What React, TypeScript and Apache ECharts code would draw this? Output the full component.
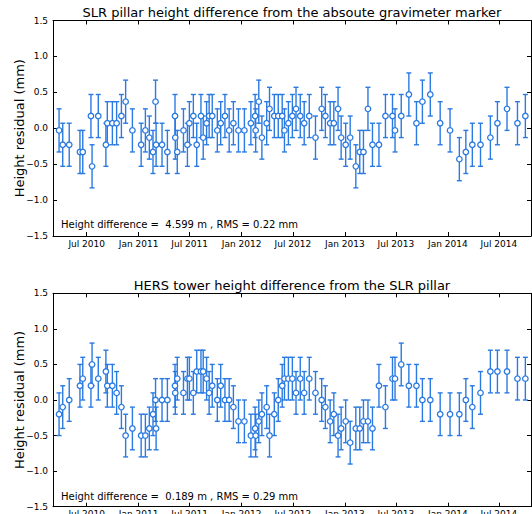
import React, { useEffect, useRef } from 'react';
import * as echarts from 'echarts';

// Observation epochs (shared by both panels)
const DATES: string[] = [
  '2010-03-25', '2010-04-07', '2010-04-30', '2010-06-07', '2010-06-17', '2010-07-16', '2010-07-20', '2010-08-11', '2010-09-07', '2010-09-12',
  '2010-09-30', '2010-10-15', '2010-11-01', '2010-11-16', '2010-12-10', '2011-01-10', '2011-01-25', '2011-02-08', '2011-02-21', '2011-03-02',
  '2011-03-04', '2011-03-25', '2011-04-13', '2011-05-10', '2011-05-11', '2011-05-18', '2011-06-09', '2011-06-23', '2011-06-30', '2011-07-14',
  '2011-07-26', '2011-08-10', '2011-08-18', '2011-08-30', '2011-09-08', '2011-09-19', '2011-10-07', '2011-10-19', '2011-11-03', '2011-11-18',
  '2011-12-03', '2011-12-21', '2012-01-11', '2012-02-03', '2012-02-18', '2012-02-20', '2012-03-02', '2012-03-13', '2012-03-30', '2012-04-09',
  '2012-04-26', '2012-05-10', '2012-05-24', '2012-06-01', '2012-06-15', '2012-06-29', '2012-07-12', '2012-07-27', '2012-08-10', '2012-08-28',
  '2012-09-19', '2012-10-11', '2012-10-24', '2012-11-10', '2012-11-23', '2012-12-08', '2012-12-19', '2013-01-04', '2013-01-20', '2013-02-09',
  '2013-02-23', '2013-03-08', '2013-03-24', '2013-04-09', '2013-05-02', '2013-05-25', '2013-06-19', '2013-06-28', '2013-07-20', '2013-08-16',
  '2013-09-12', '2013-10-03', '2013-10-31', '2013-12-05', '2014-01-09', '2014-02-11', '2014-03-06', '2014-03-29', '2014-04-27', '2014-06-01',
  '2014-06-26', '2014-07-30', '2014-09-05', '2014-10-03',
];

// Top panel: SLR pillar residuals (mm)
const SLR_RESIDUALS: number[] = [
  -0.03, -0.23, -0.23, -0.33, -0.33, 0.17, -0.53, 0.17, -0.23, 0.07,
  0.07, 0.07, 0.17, 0.37, -0.03, -0.23, -0.03, -0.13, -0.33, 0.37,
  -0.23, -0.23, -0.33, 0.17, -0.13, -0.33, -0.03, -0.23, 0.07, 0.17,
  -0.23, 0.17, -0.13, 0.07, 0.17, 0.17, -0.03, 0.07, 0.17, -0.03,
  0.07, -0.03, -0.03, 0.07, 0.17, -0.03, 0.37, -0.13, 0.07, 0.27,
  0.17, 0.17, 0.17, -0.03, 0.07, 0.17, 0.27, 0.17, 0.07, 0.17,
  -0.13, 0.27, 0.17, 0.07, 0.07, 0.27, -0.13, -0.23, -0.13, -0.53,
  -0.33, -0.33, 0.27, -0.23, -0.23, 0.17, 0.17, -0.03, 0.17, 0.47,
  0.07, 0.37, 0.47, 0.07, -0.03, -0.43, -0.33, -0.23, -0.23, -0.13,
  0.07, 0.27, 0.07, 0.17,
];

// Bottom panel: HERS tower residuals (mm)
const HERS_RESIDUALS: number[] = [
  -0.2, -0.1, 0.0, 0.2, 0.3, 0.2, 0.5, 0.3, 0.4, 0.2,
  0.2, 0.1, -0.1, -0.5, -0.4, -0.5, -0.5, -0.4, -0.2, 0.0,
  -0.4, 0.0, 0.0, 0.2, 0.1, 0.3, 0.1, 0.3, 0.3, 0.1,
  0.4, 0.4, 0.4, 0.3, 0.1, 0.2, 0.0, 0.2, 0.0, 0.0,
  -0.1, -0.3, -0.3, -0.5, -0.4, -0.5, -0.3, -0.2, -0.1, -0.5,
  -0.2, 0.0, 0.2, 0.3, 0.3, 0.3, 0.1, 0.3, 0.1, 0.3,
  0.1, 0.0, -0.1, -0.3, -0.2, -0.5, -0.4, -0.3, -0.6, -0.4,
  -0.4, -0.3, -0.3, -0.4, 0.2, -0.1, 0.3, 0.3, 0.5, 0.2,
  0.2, 0.0, 0.0, -0.2, -0.2, -0.2, 0.0, -0.1, 0.1, 0.4,
  0.4, 0.4, 0.3, 0.3,
];

const SIGMA = 0.3; // error bar half-length (mm)

const TITLES = [
  'SLR pillar height difference from the absoute gravimeter marker',
  'HERS tower height difference from the SLR pillar',
];
const NOTES = [
  'Height difference =  4.599 m , RMS = 0.22 mm',
  'Height difference =  0.189 m , RMS = 0.29 mm',
];
const Y_NAME = 'Height residual (mm)';
const X_MIN = '2010-03-03 12:00';
const X_MAX = '2014-10-23';
const Y_MIN = -1.5;
const Y_MAX = 1.5;
const Y_STEP = 0.5;
const MONTHS = ['Jan', 'Feb', 'Mar', 'Apr', 'May', 'Jun', 'Jul', 'Aug', 'Sep', 'Oct', 'Nov', 'Dec'];

const BLUE = '#2a7ae2';
const FONT = 'DejaVu Sans';
const HALF_YEAR = 182 * 24 * 3600 * 1000;

const GRIDS = [
  { left: 53, top: 20.5, width: 478, height: 215.5 },
  { left: 53, top: 293.3, width: 478, height: 213.4 },
];

export default function App() {
  const ref = useRef<HTMLDivElement>(null);

  useEffect(() => {
    if (!ref.current) return;
    const chart = echarts.init(ref.current, undefined, { renderer: 'svg' });

    const xAxes: any[] = [];
    const yAxes: any[] = [];
    GRIDS.forEach((_, g) => {
      const common = {
        gridIndex: g,
        type: 'time',
        min: X_MIN,
        max: X_MAX,
        minInterval: HALF_YEAR,
        maxInterval: HALF_YEAR,
        splitLine: { show: false },
        axisLine: { show: true, onZero: false, lineStyle: { color: '#000', width: 1 } },
        axisTick: { show: true, inside: true, length: 4, lineStyle: { color: '#000' } },
        minorTick: { show: false },
      };
      xAxes.push({
        ...common,
        position: 'bottom',
        axisLabel: {
          show: true,
          margin: 3,
          fontSize: 9,
          fontFamily: FONT,
          color: '#000',
          hideOverlap: false,
          formatter: (v: number) => {
            const d = new Date(v);
            return MONTHS[d.getMonth()] + ' ' + d.getFullYear();
          },
        },
      });
      xAxes.push({ ...common, position: 'top', axisLabel: { show: false } });

      const ycommon = {
        gridIndex: g,
        type: 'value',
        min: Y_MIN,
        max: Y_MAX,
        interval: Y_STEP,
        splitLine: { show: false },
        axisLine: { show: true, onZero: false, lineStyle: { color: '#000', width: 1 } },
        axisTick: { show: true, inside: true, length: 4, lineStyle: { color: '#000' } },
      };
      yAxes.push({
        ...ycommon,
        position: 'left',
        name: Y_NAME,
        nameLocation: 'middle',
        nameRotate: 90,
        nameGap: 27,
        nameMoveOverlap: false,
        nameTextStyle: { fontSize: 13, fontFamily: FONT, color: '#000' },
        axisLabel: {
          show: true,
          margin: 5,
          fontSize: 9,
          fontFamily: FONT,
          color: '#000',
          formatter: (v: number) => (v < 0 ? '\u2212' : '') + Math.abs(v).toFixed(1),
        },
      });
      yAxes.push({ ...ycommon, position: 'right', axisLabel: { show: false } });
    });

    const makeSeries = (vals: number[], g: number) => {
      const data = DATES.map((d, i) => [d, vals[i]]);
      return [
        {
          type: 'custom',
          xAxisIndex: g * 2,
          yAxisIndex: g * 2,
          data,
          encode: { x: 0, y: 1 },
          z: 2,
          renderItem: (params: any, api: any) => {
            const x = api.value(0);
            const y = api.value(1);
            const hi = api.coord([x, y + SIGMA]);
            const lo = api.coord([x, y - SIGMA]);
            const cx = hi[0];
            const hw = 2.5;
            const st = { stroke: BLUE, lineWidth: 1.4 };
            return {
              type: 'group',
              children: [
                { type: 'line', shape: { x1: cx, y1: hi[1], x2: cx, y2: lo[1] }, style: st },
                { type: 'line', shape: { x1: cx - hw, y1: hi[1], x2: cx + hw, y2: hi[1] }, style: st },
                { type: 'line', shape: { x1: cx - hw, y1: lo[1], x2: cx + hw, y2: lo[1] }, style: st },
              ],
            };
          },
        },
        {
          type: 'scatter',
          xAxisIndex: g * 2,
          yAxisIndex: g * 2,
          data,
          symbol: 'circle',
          symbolSize: 5.5,
          z: 3,
          itemStyle: { color: '#fff', borderColor: BLUE, borderWidth: 1.3, opacity: 1 },
        },
      ];
    };

    chart.setOption({
      animation: false,
      backgroundColor: '#fff',
      title: GRIDS.map((gr, g) => ({
        text: TITLES[g],
        left: gr.left + gr.width / 2,
        top: gr.top - 14.5,
        textAlign: 'center',
        padding: 0,
        textStyle: { fontSize: 13, fontWeight: 'normal', fontFamily: FONT, color: '#000' },
      })),
      grid: GRIDS.map((gr) => ({ ...gr, containLabel: false, outerBoundsMode: 'none' })),
      xAxis: xAxes,
      yAxis: yAxes,
      graphic: GRIDS.map((gr, g) => ({
        type: 'text',
        x: 61,
        y: gr.top + 203.5,
        style: {
          text: NOTES[g],
          fontSize: 10,
          fontFamily: FONT,
          fill: '#000',
          verticalAlign: 'middle',
          textVerticalAlign: 'middle',
        },
      })),
      series: [...makeSeries(SLR_RESIDUALS, 0), ...makeSeries(HERS_RESIDUALS, 1)],
    });

    return () => chart.dispose();
  }, []);

  return (
    <div
      ref={ref}
      style={{ position: 'absolute', left: 0, top: 0, width: 532, height: 514, background: '#fff' }}
    />
  );
}
